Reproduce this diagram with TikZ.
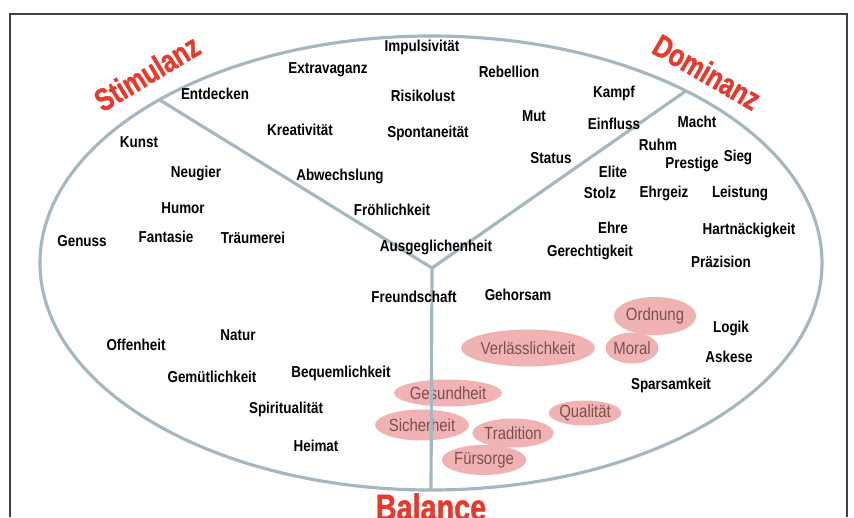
\documentclass[tikz,border=0pt]{standalone}
\usepackage{fontspec}
\setmainfont{Liberation Sans}[FakeStretch=0.85]
\newfontfamily\polfont{Liberation Sans}[FakeStretch=0.78, BoldFeatures={FakeBold=1.2}]
\usetikzlibrary{shapes.geometric,calc}
\definecolor{linegray}{RGB}{165,183,192}
\definecolor{titlered}{RGB}{232,58,44}
\definecolor{valuepink}{RGB}{240,178,178}
\definecolor{valuetext}{RGB}{125,80,80}

\begin{document}
\begin{tikzpicture}[x=0.02cm, y=-0.02cm,
    every node/.style={font=\fontsize{9}{10}\selectfont\bfseries, inner sep=1pt},
    kern/.style={ellipse, fill=valuepink, text=valuetext, font=\fontsize{10}{11}\selectfont, inner sep=0pt},
    pol/.style={text=titlered, font=\polfont\fontsize{18}{20}\selectfont\bfseries},
    feld/.style={draw=linegray, line width=1.8pt}]

\useasboundingbox (0,0) rectangle (854,517);
\draw[black!75, line width=0.8pt] (10,517) -- (10,14) -- (847,14) -- (847,517);

% Kernwerte (Balance)
\node[kern, minimum width=1.4cm, minimum height=0.76cm] (ordnung) at (655,316) {Ordnung};
\node[kern, minimum width=2.12cm, minimum height=0.74cm] (verlass) at (528,348) {Verlässlichkeit};
\node[kern, minimum width=1.02cm, minimum height=0.62cm] (moral) at (632,348) {Moral};
\node[kern, minimum width=1.82cm, minimum height=0.54cm] (gesund) at (448,393) {Gesundheit};
\node[kern, minimum width=1.36cm, minimum height=0.5cm] (qualitaet) at (585,413) {Qualität};
\node[kern, minimum width=1.52cm, minimum height=0.62cm] (sicher) at (422,425) {Sicherheit};
\node[kern, minimum width=1.42cm, minimum height=0.58cm] (tradition) at (513,433) {Tradition};
\node[kern, minimum width=1.4cm, minimum height=0.6cm] (fuersorge) at (484,460) {Fürsorge};

% Feld
\coordinate (mitte) at (431,263);
\coordinate (hub) at (432,268);
\coordinate (stim) at ($(mitte)+(226:391 and 227)$);
\coordinate (dom) at ($(mitte)+(310.7:391 and 227)$);
\coordinate (bal) at ($(mitte)+(90:391 and 227)$);
\draw[feld] (mitte) ellipse (391 and 227);
\draw[feld] (stim) -- (hub) -- (dom);
\draw[feld] (hub) -- (bal);

% Pole
\node[pol, rotate=31] (stimulanz) at (147,73) {Stimulanz};
\node[pol, rotate=-30] (dominanz) at (707,72) {Dominanz};
\node[pol, font=\polfont\fontsize{21}{24}\selectfont\bfseries] (balance) at (431,507) {Balance};

% Stimulanz / Dominanz
\node (impuls) at (422,47) {Impulsivität};
\node (extrav) at (328,70) {Extravaganz};
\node (rebell) at (509,72) {Rebellion};
\node (entdeck) at (215,94) {Entdecken};
\node (risiko) at (423,96) {Risikolust};
\node (kampf) at (614,93) {Kampf};
\node (mut) at (534,116) {Mut};
\node (einfluss) at (614,124) {Einfluss};
\node (macht) at (697,122) {Macht};
\node (kreativ) at (300,130) {Kreativität};
\node (spontan) at (428,133) {Spontaneität};
\node (kunst) at (139,142) {Kunst};
\node (ruhm) at (658,145) {Ruhm};
\node (status) at (551,158) {Status};
\node (prestige) at (692,164) {Prestige};
\node (sieg) at (738,157) {Sieg};
\node (neugier) at (196,173) {Neugier};
\node (abwechs) at (340,176) {Abwechslung};
\node (elite) at (613,172) {Elite};
\node (stolz) at (600,193) {Stolz};
\node (ehrgeiz) at (664,193) {Ehrgeiz};
\node (leistung) at (740,193) {Leistung};
\node (humor) at (183,208) {Humor};
\node (froehlich) at (392,210) {Fröhlichkeit};
\node (ehre) at (613,228) {Ehre};
\node (hartnaeck) at (749,230) {Hartnäckigkeit};
\node (genuss) at (82,241) {Genuss};
\node (fantasie) at (166,237) {Fantasie};
\node (traeum) at (253,238) {Träumerei};
\node (ausgegl) at (436,247) {Ausgeglichenheit};
\node (gerecht) at (590,252) {Gerechtigkeit};
\node (praezis) at (721,262) {Präzision};

% Balance
\node (freund) at (414,297) {Freundschaft};
\node (gehorsam) at (518,295) {Gehorsam};
\node (logik) at (731,328) {Logik};
\node (natur) at (238,335) {Natur};
\node (offen) at (136,345) {Offenheit};
\node (askese) at (729,357) {Askese};
\node (bequem) at (341,373) {Bequemlichkeit};
\node (gemuet) at (212,377) {Gemütlichkeit};
\node (sparsam) at (671,385) {Sparsamkeit};
\node (spirit) at (286,409) {Spiritualität};
\node (heimat) at (316,446) {Heimat};

\end{tikzpicture}
\end{document}
